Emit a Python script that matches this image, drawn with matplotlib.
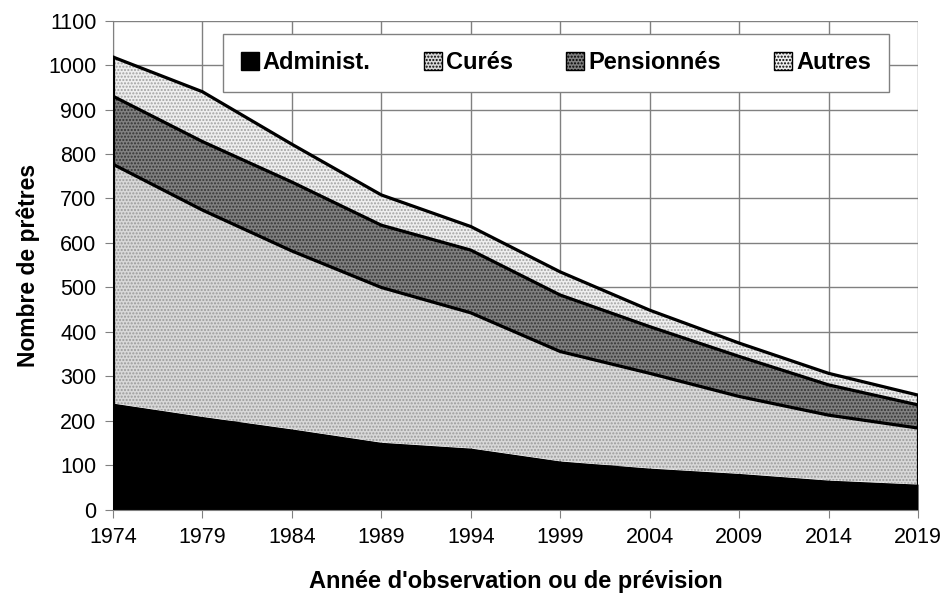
import matplotlib
matplotlib.use("Agg")
import matplotlib.pyplot as plt
import numpy as np

plt.rcParams['font.family'] = ['Liberation Sans', 'DejaVu Sans']
plt.rcParams['hatch.linewidth'] = 1.0

years = [1974, 1979, 1984, 1989, 1994, 1999, 2004, 2009, 2014, 2019]
administ = [240, 210, 182, 152, 139, 110, 94, 82, 67, 58]
cures = [537, 464, 400, 348, 304, 246, 213, 173, 146, 126]
pensionnes = [153, 154, 155, 140, 141, 127, 105, 90, 68, 52]
autres = [88, 112, 85, 68, 53, 52, 37, 30, 26, 22]
labels = ['Administ.', 'Curés', 'Pensionnés', 'Autres']
yticks = list(range(0, 1101, 100))

fig = plt.figure(figsize=(9.41, 5.95), dpi=100)
ax = fig.add_axes([0.120, 0.143, 0.8556, 0.8225])

x = np.array(years)
series = [administ, cures, pensionnes, autres]
faces = ['#000000', '#d8d8d8', '#808080', '#eeeeee']
hatches = [None, '.....', '.....', '.....']
hcols = ['#000000', '#9a9a9a', '#333333', '#a0a0a0']

bottom = np.zeros(len(x))
handles = []
for vals, fc, hc, hcol, lab in zip(series, faces, hatches, hcols, labels):
    top = bottom + np.array(vals)
    poly = ax.fill_between(x, bottom, top, facecolor=fc, edgecolor=hcol,
                           hatch=hc, linewidth=0, zorder=2, label=lab)
    handles.append(poly)
    if lab != 'Administ.':
        ax.plot(x, top, color='black', lw=2.3, zorder=3)
    bottom = top

# side edges
ax.plot([x[0], x[0]], [0, bottom[0]], color='black', lw=2.3, zorder=3)
ax.plot([x[-1], x[-1]], [0, bottom[-1]], color='black', lw=2.3, zorder=3)

ax.set_xlim(1974, 2019)
ax.set_ylim(0, 1100)
ax.set_xticks(years)
ax.set_xticklabels([str(y) for y in years])
ax.set_yticks(yticks)
ax.grid(True, color='#808080', lw=1.0, zorder=0)
ax.set_axisbelow(True)
for s in ['top', 'right']:
    ax.spines[s].set_visible(False)
for s in ['left', 'bottom']:
    ax.spines[s].set_color('#808080')
ax.tick_params(axis='both', colors='#808080', labelcolor='black',
               labelsize=15.5, length=6, direction='out')
ax.tick_params(axis='x', pad=6)
ax.tick_params(axis='y', pad=6)

ax.set_ylabel('Nombre de prêtres', fontsize=16.5, fontweight='bold', labelpad=6)
ax.set_xlabel("Année d'observation ou de prévision", fontsize=17,
              fontweight='bold', labelpad=16)

h = 0.1166
leg = ax.legend(handles=handles, labels=labels, ncol=4,
                loc='upper left', bbox_to_anchor=(0.1366, 0.9734 - h, 0.8273, h),
                mode='expand', borderaxespad=0, frameon=True, fancybox=False,
                prop={'weight': 'bold', 'size': 17},
                handlelength=0.76, handleheight=0.76, handletextpad=0.17,
                borderpad=0.75, columnspacing=1.5)
leg.get_frame().set_edgecolor('#808080')
leg.get_frame().set_linewidth(1.0)
leg.get_frame().set_facecolor('white')
leg.get_frame().set_alpha(1)
for hd in leg.legend_handles:
    hd.set_edgecolor('black')
    hd.set_linewidth(1.0)

fig.savefig('out.png', dpi=100)
